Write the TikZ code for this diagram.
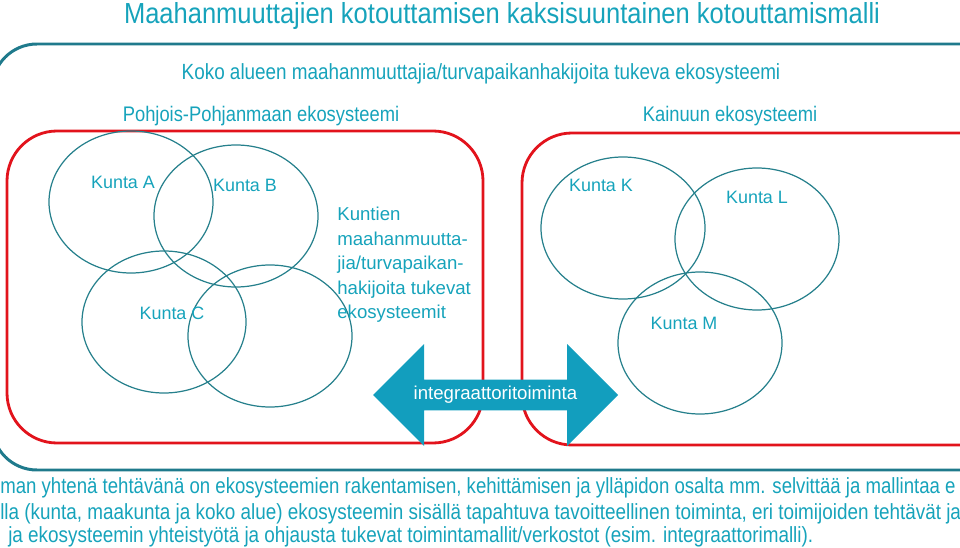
\documentclass[tikz,border=0pt]{standalone}
\usepackage{fontspec}
\setmainfont{Liberation Sans}
\usetikzlibrary{shapes.geometric, shapes.arrows, positioning}

\definecolor{tealline}{RGB}{31,122,140}
\definecolor{ringline}{RGB}{38,128,140}
\definecolor{redline}{RGB}{226,19,28}
\definecolor{labelblue}{RGB}{22,163,187}
\definecolor{arrowfill}{RGB}{18,158,190}

\begin{document}
\begin{tikzpicture}[x=0.2mm, y=-0.2mm,
    kunta/.style={draw=ringline, line width=0.7pt, ellipse, inner sep=0pt, minimum width=32.8mm, minimum height=28.4mm},
    klabel/.style={text=labelblue, font=\fontsize{10.2}{12}\selectfont, inner sep=0pt},
    region/.style={draw=redline, line width=1.6pt, rounded corners=10mm},
    heading/.style={text=labelblue, inner sep=0pt},
    bodyline/.style={text=labelblue, anchor=west, inner sep=0pt, xscale=0.86, font=\fontsize{12.5}{14}\selectfont}]
    \useasboundingbox (0,0) rectangle (960,548);
    \clip (0,0) rectangle (960,548);

    % outer and regional ecosystems
    \draw[draw=tealline, line width=1.7pt, rounded corners=9mm] (-8,44) rectangle (1005,470);
    \draw[region] (7,131) rectangle (483,443);
    \draw[region] (522,133) rectangle (1010,445);

    \node[heading, anchor=base, font=\fontsize{16.5}{20}\selectfont, xscale=0.88] (title) at (502,24) {Maahanmuuttajien kotouttamisen kaksisuuntainen kotouttamismalli};
    \node[heading, font=\fontsize{12.5}{14}\selectfont, xscale=0.86] (koko) at (481,74) {Koko alueen maahanmuuttajia/turvapaikanhakijoita tukeva ekosysteemi};
    \node[heading, font=\fontsize{12}{14}\selectfont, xscale=0.87] (pp) at (261,116) {Pohjois-Pohjanmaan ekosysteemi};
    \node[heading, font=\fontsize{12}{14}\selectfont, xscale=0.87] (kai) at (730,116) {Kainuun ekosysteemi};

    % municipalities
    \node[kunta] (ka) at (131,202) {};
    \node[kunta] (kb) at (236,216) {};
    \node[kunta] (kc) at (164,322) {};
    \node[kunta] (kd) at (270,336) {};
    \node[kunta] (kk) at (623,228) {};
    \node[kunta] (kl) at (757,239) {};
    \node[kunta] (km) at (700,343) {};

    \node[klabel] (la) at (123,182) {Kunta A};
    \node[klabel] (lb) at (245,185) {Kunta B};
    \node[klabel] (lc) at (172,313) {Kunta C};
    \node[klabel] (lk) at (601,185) {Kunta K};
    \node[klabel] (ll) at (757,197) {Kunta L};
    \node[klabel] (lm) at (684,323) {Kunta M};
    \node[klabel, anchor=north west, align=left, font=\fontsize{10.6}{13.9}\selectfont] (kuntien) at (337,207)
        {Kuntien\\maahanmuutta-\\jia/turvapaikan-\\hakijoita tukevat\\ekosysteemit};

    % integrator arrow
    \node[double arrow, fill=arrowfill, text=white, inner sep=1pt, minimum height=49mm, minimum width=20.4mm,
          double arrow head extend=5mm, font=\fontsize{10.6}{12}\selectfont] (integ) at (495.5,395) {integraattoritoiminta};

    % text below
    \node[bodyline, xscale=0.985] (t1) at (0,488) {man yhtenä tehtävänä on ekosysteemien rakentamisen, kehittämisen ja ylläpidon osalta mm. selvittää ja mallintaa e};
    \node[bodyline] (t2) at (0,514) {lla (kunta, maakunta ja koko alue) ekosysteemin sisällä tapahtuva tavoitteellinen toiminta, eri toimijoiden tehtävät ja};
    \node[bodyline] (t3) at (8,537) {ja ekosysteemin yhteistyötä ja ohjausta tukevat toimintamallit/verkostot (esim. integraattorimalli).};
\end{tikzpicture}
\end{document}
